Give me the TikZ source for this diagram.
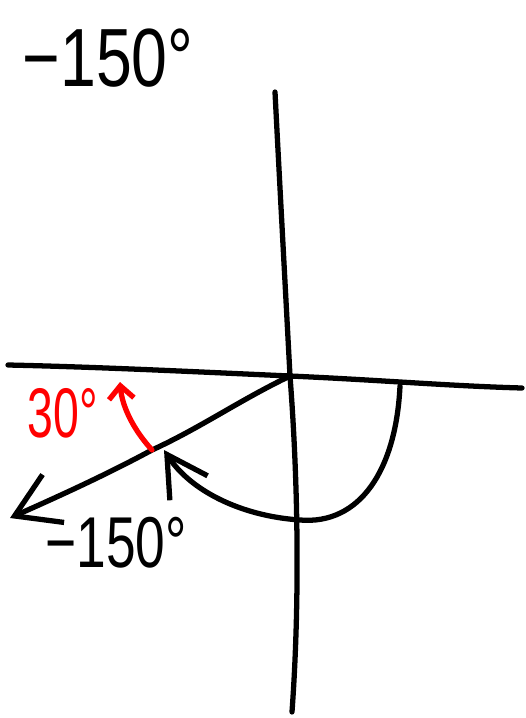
\documentclass[tikz,border=0pt]{standalone}
\usepackage{fontspec}
\setmainfont{Liberation Sans}
\usetikzlibrary{arrows.meta}

\begin{document}
\begin{tikzpicture}[x=0.02cm, y=-0.02cm, line width=3pt, line cap=round, line join=round,
  every node/.style={inner sep=0pt},
  raybarb/.style={-{Straight Barb[length=8.5mm,width=10.5mm]}},
  turnbarb/.style={-{Straight Barb[length=8mm,width=9mm]}},
  redbarb/.style={red, -{Straight Barb[length=2.6mm,width=5mm]}}]
\useasboundingbox (0,0) rectangle (525,718);
\coordinate (O) at (290,376);
\coordinate (xl) at (8,365);
\coordinate (xr) at (522,388);
\coordinate (yt) at (275,92);
\coordinate (yb) at (292,712);
\coordinate (tip) at (10,518);
\coordinate (onray) at (152,450);
% axes
\draw (xl) .. controls (100,367) and (200,372) .. (O) .. controls (380,380) and (450,386) .. (xr);
\draw (yt) .. controls (280,190) and (286,300) .. (O) .. controls (298,480) and (300,600) .. (yb);
% terminal side
\draw[raybarb] (O) .. controls (240,400) and (200,428) .. (onray) .. controls (100,478) and (50,500) .. (tip);
% turn of -150
\draw[turnbarb] (400,386) .. controls (396,470) and (360,525) .. (300,520) .. controls (240,516) and (190,490) .. (164,450);
% reference angle
\draw[redbarb] (onray) .. controls (132,428) and (122,405) .. (120,382);
\node[font=\fontsize{47}{47}\selectfont, xscale=0.78] (title) at (108,58) {−150°};
\node[font=\fontsize{41}{41}\selectfont, xscale=0.74] (lbl) at (116,543) {−150°};
\node[red, font=\fontsize{40}{40}\selectfont, xscale=0.66] (ref) at (63,413) {30°};
\end{tikzpicture}
\end{document}
